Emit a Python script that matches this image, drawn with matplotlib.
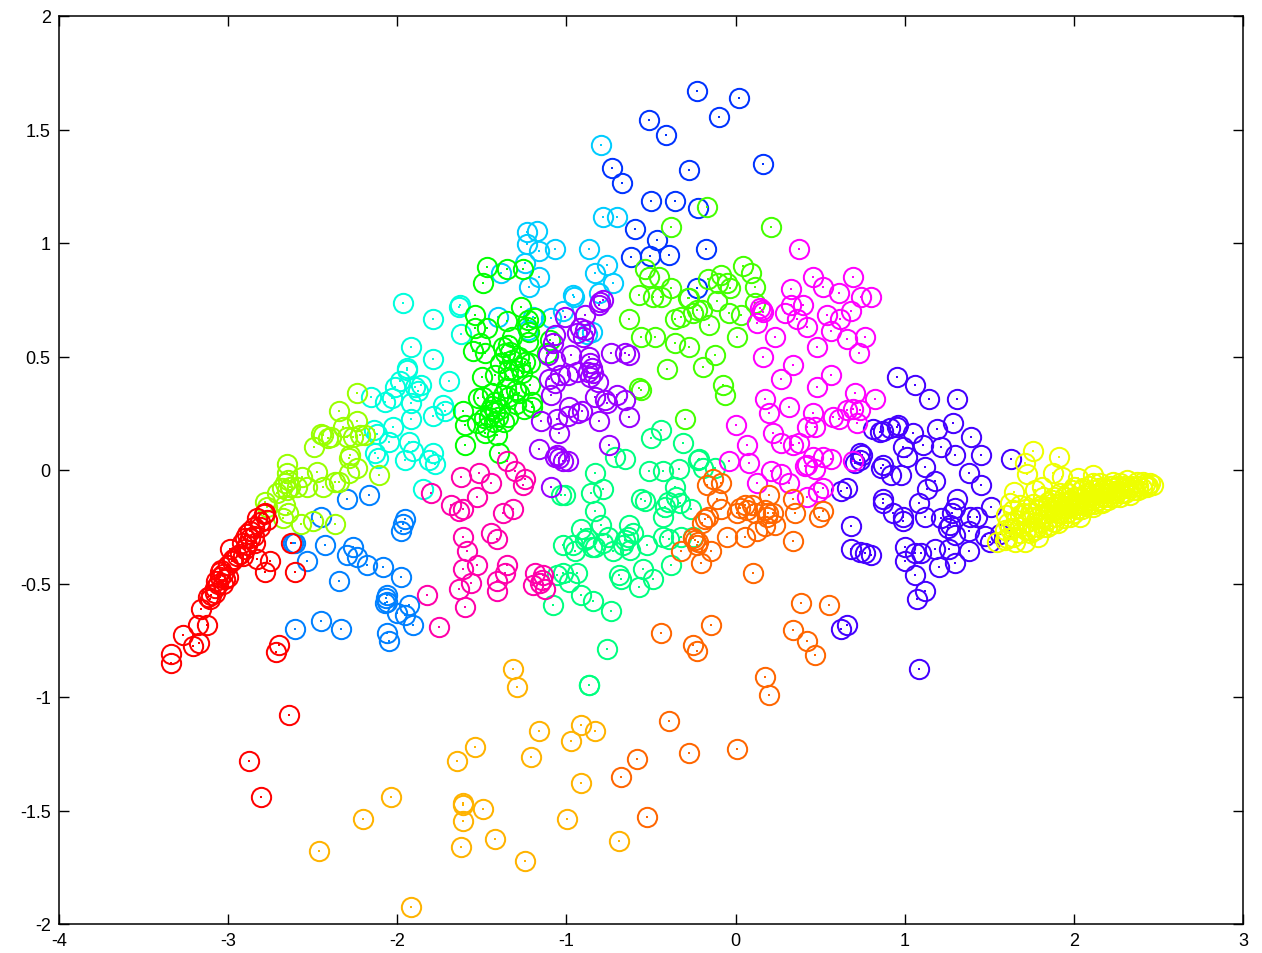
import matplotlib
matplotlib.use('Agg')
import matplotlib.pyplot as plt
import numpy as np

# points per group as (x, y)
blue = [(-0.23,1.67),(0.02,1.64),(-0.10,1.555),(-0.51,1.54),(-0.41,1.475),(0.16,1.35),(-0.275,1.32),
        (-0.73,1.33),(-0.67,1.265),(-0.50,1.185),(-0.36,1.185),(-0.22,1.155),(-0.595,1.06),(-0.465,1.013),
        (-0.175,0.973),(-0.62,0.94),(-0.505,0.943),(-0.395,0.947),(-0.23,0.80)]
indigo = [(0.954,0.41),(1.06,0.374),(1.143,0.313),(1.31,0.313),(1.285,0.207),(1.19,0.18),(1.39,0.145),(1.05,0.163),
          (0.96,0.198),(0.954,0.19),(0.913,0.185),(0.87,0.172),(0.853,0.167),(0.81,0.18),(1.108,0.11),(0.99,0.10),
          (1.214,0.10),(1.297,0.066),(1.45,0.066),(1.627,0.048),(1.013,0.057),(1.12,0.013),(0.87,0.022),(0.86,0.009),
          (0.735,0.044),(0.747,0.066),(0.92,-0.022),(0.978,-0.022),(1.38,-0.013),(1.45,-0.066),(1.18,-0.048),(1.13,-0.084),
          (1.31,-0.128),(0.87,-0.128),(0.87,-0.145),(1.084,-0.145),(1.297,-0.167),(1.51,-0.163),(0.93,-0.19),(0.99,-0.207),
          (0.99,-0.225),(1.12,-0.207),(1.214,-0.21),(1.28,-0.19),(1.427,-0.207),(1.386,-0.207),(1.256,-0.255),(1.297,-0.286),
          (1.268,-0.242),(1.38,-0.27),(1.474,-0.29),(1.504,-0.317),(1.563,-0.282),(1.38,-0.357),(1.0,-0.34),(1.0,-0.40),
          (1.06,-0.366),(1.096,-0.366),(1.18,-0.348),(1.262,-0.348),(1.203,-0.427),(1.297,-0.41),(1.06,-0.463),(1.12,-0.533),
          (1.072,-0.568),(1.085,-0.877),(0.658,-0.683),(0.623,-0.70),(0.80,-0.374),(0.765,-0.366),(0.735,-0.361),(0.682,-0.348),
          (0.682,-0.247),(0.623,-0.093),(0.658,-0.08),(0.735,0.075),(0.706,0.03)]
azure = [(-2.605,-0.32),(-2.617,-0.32),(-2.43,-0.33),(-2.535,-0.40),(-2.30,-0.128),(-2.165,-0.11),(-2.45,-0.207),(-2.26,-0.34),
         (-2.30,-0.374),(-2.24,-0.383),(-2.18,-0.42),(-2.085,-0.427),(-1.98,-0.47),(-2.345,-0.49),(-1.955,-0.216),(-1.967,-0.24),
         (-1.98,-0.27),(-2.06,-0.55),(-2.06,-0.58),(-2.07,-0.586),(-2.065,-0.564),(-1.93,-0.595),(-2.0,-0.63),(-1.955,-0.64),
         (-1.91,-0.683),(-2.605,-0.70),(-2.45,-0.665),(-2.33,-0.70),(-2.06,-0.72),(-2.05,-0.753)]
cyan = [(-0.796,1.432),(-0.784,1.115),(-0.70,1.115),(-0.867,0.974),(-0.76,0.903),(-0.83,0.868),(-0.725,0.824),(-0.807,0.78),
        (-0.96,0.77),(-0.955,0.762),(-1.233,1.048),(-1.174,1.053),(-1.233,0.995),(-1.162,0.965),(-1.068,0.974),(-1.387,0.868),
        (-1.245,0.912),(-1.162,0.85),(-1.22,0.806),(-1.405,0.674),(-1.197,0.674),(-1.09,0.67),(-1.02,0.70),(-1.227,0.617),
        (-0.85,0.608),(-0.88,0.60)]
teal = [(-1.967,0.736),(-1.79,0.665),(-1.92,0.54),(-1.79,0.49),(-1.94,0.45),(-1.94,0.44),(-1.695,0.39),(-2.015,0.365),(-1.985,0.39),
        (-1.895,0.365),(-1.86,0.375),(-1.88,0.35),(-2.155,0.32),(-2.07,0.30),(-2.03,0.315),(-1.92,0.295),(-1.79,0.24),(-1.73,0.285),
        (-1.72,0.26),(-1.92,0.225),(-2.025,0.19),(-2.14,0.175),(-2.12,0.16),(-1.93,0.123),(-2.05,0.123),(-1.91,0.084),(-1.79,0.075),
        (-2.13,0.075),(-2.115,0.053),(-1.955,0.044),(-1.81,0.044),(-1.775,0.026),(-1.85,-0.084),(-1.63,0.727),(-1.635,0.72),(-1.625,0.60)]
spring = [(-0.83,-0.013),(-0.855,-0.10),(-0.784,-0.084),(-0.713,0.057),(-0.654,0.048),(-0.512,-0.004),(-0.43,-0.004),(-0.335,0.004),
          (-0.217,0.048),(-0.222,0.044),(-0.193,0.01),(-0.122,0.01),(-0.358,-0.075),(-0.56,-0.128),(-0.536,-0.137),(-0.417,-0.163),
          (-0.352,-0.119),(-0.40,-0.14),(-0.328,-0.145),(-0.264,-0.172),(-0.83,-0.18),(-0.43,-0.207),(-0.795,-0.242),(-0.913,-0.26),
          (-0.63,-0.242),(-0.607,-0.277),(-0.636,-0.295),(-0.654,-0.308),(-0.665,-0.33),(-0.624,-0.352),(-0.88,-0.30),(-0.85,-0.34),
          (-0.89,-0.308),(-0.83,-0.34),(-0.755,-0.295),(-0.784,-0.32),(-1.02,-0.33),(-0.95,-0.357),(-0.96,-0.33),(-0.725,-0.357),
          (-0.524,-0.33),(-0.43,-0.295),(-0.394,-0.304),(-0.323,-0.295),(-0.252,-0.295),(-0.38,-0.42),(-0.547,-0.436),(-0.69,-0.463),
          (-0.677,-0.48),(-0.488,-0.48),(-0.57,-0.515),(-1.056,-0.463),(-1.02,-0.454),(-0.938,-0.454),(-0.985,-0.493),(-0.913,-0.55),
          (-0.843,-0.577),(-1.08,-0.595),(-0.737,-0.62),(-1.01,-0.11),(-1.03,-0.11),(-0.76,-0.79),(-0.867,-0.947),(-0.865,-0.945),
          (-0.44,0.176),(-0.50,0.14),(-0.31,0.12)]
green = [(-1.47,0.894),(-1.35,0.885),(-1.257,0.885),(-1.494,0.824),(-1.27,0.718),(-1.54,0.683),(-1.54,0.626),(-1.47,0.626),(-1.35,0.656),
         (-1.227,0.66),(-1.186,0.67),(-1.233,0.63),(-1.22,0.608),(-1.32,0.586),(-1.227,0.564),(-1.097,0.573),(-1.51,0.56),(-1.55,0.524),
         (-1.48,0.515),(-1.375,0.54),(-1.345,0.55),(-1.335,0.52),(-1.365,0.515),(-1.32,0.485),(-1.245,0.476),(-1.216,0.47),(-1.115,0.515),
         (-1.275,0.454),(-1.345,0.44),(-1.50,0.41),(-1.42,0.42),(-1.345,0.41),(-1.265,0.427),(-1.216,0.374),(-1.30,0.352),(-1.375,0.33),
         (-1.345,0.32),(-1.204,0.30),(-1.204,0.278),(-1.523,0.317),(-1.494,0.32),(-1.42,0.30),(-1.61,0.26),(-1.60,0.198),(-1.53,0.207),
         (-1.48,0.163),(-1.41,0.154),(-1.45,0.264),(-1.42,0.255),(-1.46,0.233),(-1.405,0.233),(-1.345,0.233),(-1.43,0.21),(-1.49,0.23),
         (-1.60,0.11),(-1.40,0.075),(-1.39,0.47),(-1.31,0.44),(-1.28,0.50),(-1.36,0.36),(-1.44,0.34),(-1.28,0.34),(-1.44,0.28),(-1.39,0.27),
         (-1.37,0.21),(-1.47,0.19),(-1.25,0.27),(-1.30,0.29)]
chartreuse = [(-0.17,1.16),(-0.38,1.07),(0.21,1.07),(-0.535,0.885),(-0.51,0.85),(-0.453,0.85),(-0.57,0.77),(-0.38,0.80),(-0.44,0.76),
              (-0.49,0.76),(-0.28,0.757),(-0.163,0.84),(-0.087,0.86),(-0.104,0.824),(-0.05,0.824),(-0.03,0.80),(0.044,0.90),(0.09,0.868),
              (0.115,0.806),(-0.63,0.665),(-0.36,0.665),(-0.323,0.674),(-0.276,0.757),(-0.23,0.705),(-0.252,0.69),(-0.20,0.705),(-0.157,0.64),
              (-0.11,0.744),(-0.04,0.69),(0.008,0.586),(-0.56,0.586),(-0.477,0.586),(-0.36,0.56),(-0.276,0.54),(-0.12,0.507),(-0.193,0.454),
              (-0.406,0.445),(-0.075,0.374),(-0.063,0.33),(-0.57,0.36),(-0.56,0.352),(-0.30,0.225),(0.115,0.735),(0.032,0.683)]
lime = [(-2.24,0.34),(-2.345,0.26),(-2.24,0.216),(-2.32,0.19),(-2.45,0.16),(-2.44,0.155),(-2.41,0.14),(-2.39,0.145),(-2.49,0.10),(-2.30,0.145),
        (-2.26,0.145),(-2.22,0.155),(-2.19,0.155),(-2.28,0.066),(-2.285,0.053),(-2.24,0.01),(-2.285,-0.013),(-2.65,0.026),(-2.475,-0.01),
        (-2.65,-0.013),(-2.565,-0.03),(-2.645,-0.044),(-2.665,-0.057),(-2.68,-0.08),(-2.635,-0.075),(-2.59,-0.075),(-2.535,-0.075),(-2.65,-0.09),
        (-2.71,-0.10),(-2.44,-0.075),(-2.37,-0.053),(-2.345,-0.053),(-2.78,-0.14),(-2.665,-0.154),(-2.645,-0.19),(-2.675,-0.21),(-2.50,-0.225),
        (-2.57,-0.24),(-2.37,-0.24),(-2.11,-0.02),(-2.77,-0.163)]
violet = [(-0.80,0.74),(-0.784,0.75),(-0.81,0.727),(-0.89,0.683),(-1.008,0.674),(-0.92,0.626),(-0.89,0.617),(-1.068,0.595),(-0.938,0.603),
          (-0.90,0.586),(-1.08,0.56),(-0.737,0.515),(-0.654,0.515),(-0.63,0.507),(-0.973,0.507),(-1.11,0.507),(-1.068,0.485),(-0.867,0.498),
          (-0.86,0.47),(-0.85,0.45),(-0.872,0.432),(-0.843,0.427),(-0.86,0.41),(-0.938,0.432),(-0.99,0.418),(-1.038,0.418),(-1.103,0.40),
          (-1.068,0.383),(-0.814,0.388),(-1.09,0.33),(-0.83,0.32),(-0.76,0.295),(-0.772,0.308),(-0.70,0.33),(-0.654,0.308),(-0.63,0.233),
          (-0.807,0.216),(-0.985,0.278),(-0.908,0.26),(-0.93,0.25),(-0.99,0.24),(-1.15,0.216),(-1.056,0.225),(-1.044,0.163),(-1.162,0.092),
          (-0.748,0.11),(-1.056,0.066),(-1.044,0.053),(-1.02,0.04),(-0.99,0.04),(-1.068,0.057),(-1.09,-0.075)]
magenta = [(0.374,0.974),(0.457,0.85),(0.694,0.85),(0.516,0.806),(0.327,0.797),(0.61,0.78),(0.74,0.762),(0.80,0.762),(0.398,0.727),(0.327,0.727),
           (0.29,0.69),(0.155,0.705),(0.16,0.696),(0.145,0.714),(0.68,0.70),(0.54,0.683),(0.62,0.665),(0.363,0.665),(0.42,0.63),(0.126,0.648),
           (0.564,0.612),(0.232,0.586),(0.658,0.577),(0.765,0.586),(0.48,0.54),(0.73,0.515),(0.162,0.498),(0.34,0.463),(0.564,0.418),(0.268,0.40),
           (0.48,0.366),(0.706,0.34),(0.824,0.313),(0.174,0.313),(0.316,0.278),(0.197,0.25),(0.457,0.25),(0.694,0.27),(0.658,0.264),(0.735,0.264),
           (0.576,0.233),(0.61,0.225),(0.717,0.207),(0.42,0.19),(0.47,0.19),(0.0,0.198),(0.22,0.163),(0.067,0.11),(0.268,0.12),(0.34,0.11),(0.374,0.12),
           (0.457,0.057),(0.516,0.057),(0.564,0.048),(-0.04,0.04),(0.08,0.03),(0.694,0.04),(0.42,0.022),(0.41,0.018),(0.47,0.004),(0.21,-0.004),
           (0.268,-0.018),(0.316,-0.057),(0.126,-0.057),(0.516,-0.08),(0.487,-0.097),(0.42,-0.119)]
pink = [(-1.80,-0.10),(-1.624,-0.03),(-1.517,-0.013),(-1.446,-0.057),(-1.53,-0.119),(-1.35,0.04),(-1.304,-0.004),(-1.245,-0.04),(-1.257,-0.066),
        (-1.683,-0.154),(-1.612,-0.172),(-1.635,-0.18),(-1.316,-0.172),(-1.375,-0.19),(-1.612,-0.295),(-1.446,-0.277),(-1.41,-0.304),(-1.588,-0.357),
        (-1.53,-0.42),(-1.612,-0.436),(-1.35,-0.42),(-1.363,-0.454),(-1.565,-0.498),(-1.41,-0.49),(-1.41,-0.533),(-1.635,-0.524),(-1.6,-0.604),
        (-1.186,-0.454),(-1.198,-0.507),(-1.139,-0.463),(-1.145,-0.485),(-1.156,-0.498),(-1.127,-0.524),(-1.825,-0.55),(-1.753,-0.69)]
orange = [(-0.134,-0.04),(-0.087,-0.057),(-0.17,-0.066),(-0.11,-0.128),(-0.087,-0.172),(0.198,-0.11),(0.34,-0.128),(0.056,-0.154),(0.026,-0.167),
          (0.097,-0.154),(0.067,-0.176),(0.115,-0.19),(0.008,-0.19),(0.174,-0.176),(0.19,-0.19),(0.22,-0.19),(0.185,-0.207),(0.35,-0.19),(0.516,-0.18),
          (0.494,-0.207),(-0.18,-0.216),(-0.163,-0.207),(-0.2,-0.233),(0.233,-0.242),(0.174,-0.247),(0.126,-0.27),(0.056,-0.295),(-0.05,-0.295),
          (0.34,-0.313),(-0.24,-0.308),(-0.222,-0.317),(-0.228,-0.33),(-0.252,-0.30),(-0.146,-0.357),(-0.323,-0.357),(-0.205,-0.41),(0.103,-0.454),
          (0.387,-0.586),(0.552,-0.595),(-0.146,-0.683),(-0.44,-0.718),(0.34,-0.705),(0.42,-0.753),(0.47,-0.815),(-0.25,-0.77),(-0.228,-0.797),
          (0.174,-0.912),(0.197,-0.99),(-0.393,-1.105),(-0.583,-1.273),(0.008,-1.23),(-0.276,-1.247),(-0.677,-1.352),(-0.524,-1.529)]
amber = [(-1.316,-0.877),(-1.293,-0.956),(-1.162,-1.15),(-1.21,-1.264),(-0.914,-1.123),(-0.831,-1.15),(-0.973,-1.194),(-1.54,-1.22),(-1.647,-1.282),
         (-0.914,-1.379),(-2.037,-1.44),(-2.203,-1.537),(-1.612,-1.467),(-1.61,-1.475),(-1.493,-1.493),(-1.612,-1.546),(-1.422,-1.626),(-1.624,-1.66),
         (-1.245,-1.722),(-0.997,-1.537),(-0.689,-1.634),(-2.462,-1.678),(-1.919,-1.925)]
yellow = [(1.758,0.084),(1.912,0.057),(1.71,0.03),(1.723,-0.018),(1.876,-0.013),(1.93,-0.03),(1.647,-0.097),(1.81,-0.075),(1.77,-0.088),(2.024,-0.035),
          (2.113,-0.022),(2.314,-0.044),(2.45,-0.057),(2.468,-0.066),(2.432,-0.075),(2.41,-0.053),(2.373,-0.053),(2.35,-0.074),(2.32,-0.081),(2.29,-0.081),
          (2.26,-0.088),(2.23,-0.081),(2.20,-0.088),(2.17,-0.103),(2.145,-0.103),(2.125,-0.125),(2.095,-0.118),(2.065,-0.14),(2.165,-0.147),(2.273,-0.118),
          (2.214,-0.118),(2.036,-0.147),(2.115,-0.162),(2.017,-0.154),(1.977,-0.154),(2.036,-0.206),(1.938,-0.169),(1.918,-0.191),(1.888,-0.206),(1.84,-0.25),
          (1.908,-0.235),(1.80,-0.235),(1.76,-0.25),(1.72,-0.265),(1.68,-0.279),(1.642,-0.294),(1.603,-0.301),(1.544,-0.316),(1.71,-0.316),(1.652,-0.316),
          (1.593,-0.308),(1.77,-0.265),(1.642,-0.257),(1.593,-0.265),(1.612,-0.235),(1.642,-0.176),(1.68,-0.154),(1.622,-0.147),(1.70,-0.191),(1.75,-0.206),
          (1.78,-0.176),(1.84,-0.162),(1.87,-0.132),(1.82,-0.118),(1.918,-0.103),(1.967,-0.103),(2.0,-0.074),(2.056,-0.081),(2.115,-0.059),(2.155,-0.059),
          (2.233,-0.052),(2.273,-0.059),(1.84,-0.22),(1.88,-0.176),(1.938,-0.14),(1.977,-0.206),(1.957,-0.191),(1.86,-0.242),(1.82,-0.206),(1.74,-0.279),
          (1.79,-0.294),(2.0,-0.19),(2.05,-0.17),(2.09,-0.15),(2.14,-0.13),(2.18,-0.12),(2.2,-0.13),(2.25,-0.10),(2.3,-0.10),(2.35,-0.09),(2.4,-0.08),
          (2.44,-0.07),(2.1,-0.13),(2.03,-0.12),(1.98,-0.13),(1.9,-0.15),(1.95,-0.17),(2.0,-0.15),(2.06,-0.11),(2.12,-0.09),(2.18,-0.08),(2.22,-0.07),
          (1.6,-0.2),(1.66,-0.22),(1.72,-0.23),(1.74,-0.19),(1.78,-0.21),(1.83,-0.19),(1.86,-0.17),(1.9,-0.19),(1.92,-0.16),(1.96,-0.14),(2.0,-0.12),
          (2.03,-0.15),(2.07,-0.13),(2.08,-0.1),(2.12,-0.11),(2.16,-0.1),(2.19,-0.1),(2.22,-0.1),(2.26,-0.07),(2.3,-0.07),(2.34,-0.07),(2.38,-0.07),
          (2.42,-0.06),(2.15,-0.08),(2.09,-0.07),(2.05,-0.09),(1.99,-0.09),(1.94,-0.12),(1.88,-0.12),(1.85,-0.14),(1.8,-0.16),(1.76,-0.15),(1.72,-0.17),
          (1.68,-0.2),(1.62,-0.26),(1.68,-0.25),(1.75,-0.27),(1.82,-0.25),(1.88,-0.23),(1.94,-0.21),(2.02,-0.17),(2.07,-0.16),(2.12,-0.15),(2.17,-0.14),
          (2.24,-0.12),(2.28,-0.1),(2.33,-0.11),(2.38,-0.09)]
red = [(-3.338,-0.81),(-3.338,-0.85),(-3.267,-0.727),(-3.18,-0.683),(-3.125,-0.683),(-3.207,-0.775),(-3.172,-0.762),(-3.16,-0.612),(-3.12,-0.56),
       (-3.10,-0.55),(-3.08,-0.54),(-3.11,-0.57),(-3.07,-0.49),(-3.05,-0.47),(-3.06,-0.50),(-3.03,-0.46),(-3.02,-0.48),(-3.05,-0.45),(-3.00,-0.47),
       (-3.0,-0.42),(-2.97,-0.39),(-2.99,-0.35),(-2.93,-0.37),(-2.95,-0.38),(-2.91,-0.38),(-2.90,-0.35),(-2.83,-0.39),(-2.75,-0.40),(-2.78,-0.45),
       (-2.605,-0.45),(-2.63,-0.32),(-2.89,-0.28),(-2.90,-0.30),(-2.87,-0.27),(-2.84,-0.32),(-2.89,-0.33),(-2.81,-0.25),(-2.83,-0.21),(-2.78,-0.19),
       (-2.77,-0.22),(-2.79,-0.195),(-2.81,-0.23),(-2.85,-0.25),(-2.877,-1.28),(-2.806,-1.44),(-2.64,-1.08),(-2.70,-0.77),(-2.72,-0.80),
       (-3.04,-0.44),(-2.98,-0.40),(-2.92,-0.32),(-2.87,-0.30),(-2.85,-0.29),(-3.08,-0.52),(-3.03,-0.50)]

groups = [blue, indigo, azure, cyan, teal, spring, green, chartreuse, lime, violet, magenta, pink, orange, amber, yellow, red]
colors = ['#0033ff', '#4400ff', '#0080ff', '#00ccff', '#00ffdd', '#00ff80', '#00ff00', '#44ff00',
          '#99ff00', '#9900ff', '#ff00ff', '#ff00aa', '#ff6600', '#ffb300', '#eeff00', '#ff0000']

xticks = [-4, -3, -2, -1, 0, 1, 2, 3]
yticks = [-2, -1.5, -1, -0.5, 0, 0.5, 1, 1.5, 2]

plt.rcParams['font.family'] = ['Liberation Sans', 'DejaVu Sans']
fig = plt.figure(figsize=(12.62, 9.54), dpi=100)
ax = fig.add_axes([59 / 1262, 1 - 925 / 954, (1243 - 59) / 1262, (925 - 17) / 954])

for pts, col in zip(groups, colors):
    arr = np.array(pts)
    ax.plot(arr[:, 0], arr[:, 1], linestyle='none', marker='o', markersize=13.9,
            markerfacecolor='none', markeredgecolor=col, markeredgewidth=1.45)
    ax.plot(arr[:, 0], arr[:, 1], linestyle='none', marker='s', markersize=1.5,
            markerfacecolor=col, markeredgewidth=0)

ax.set_xlim(-4, 3)
ax.set_ylim(-2, 2)
ax.set_xticks(xticks)
ax.set_xticklabels([str(t) for t in xticks])
ax.set_yticks(yticks)
ax.set_yticklabels(['%g' % t for t in yticks])
ax.tick_params(direction='in', top=True, right=True, length=7, width=1.0, labelsize=13, pad=6)
for s in ax.spines.values():
    s.set_linewidth(1.1)

fig.savefig('out.png', dpi=100)
